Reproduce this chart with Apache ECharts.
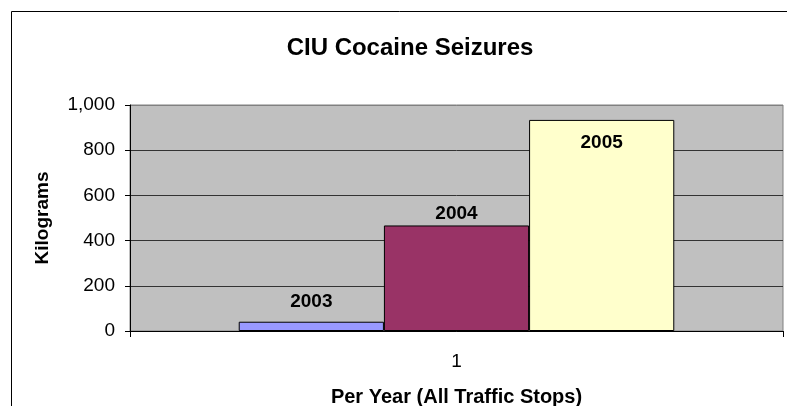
<!DOCTYPE html>
<html>
<head>
<meta charset="utf-8">
<script src="https://cdn.jsdelivr.net/npm/echarts@6/dist/echarts.min.js"></script>
<style>html,body{margin:0;padding:0;background:#fff}#c{width:787px;height:406px}</style>
</head>
<body>
<div id="c"></div>
<script>
const categories = ['1'];
const seriesNames = ['2003', '2004', '2005'];
const values = [41, 467, 934];
const yTicks = [0, 200, 400, 600, 800, 1000];

const colors = ['#9999ff', '#993366', '#ffffcc'];
const labelPos = [
  { position: 'top', distance: 10 },
  { position: 'top', distance: 2 },
  { position: 'insideTop', distance: 13 }
];

const chart = echarts.init(document.getElementById('c'), null, { renderer: 'canvas' });
const font = 'Arial, "Liberation Sans", sans-serif';

const series = seriesNames.map((name, i) => ({
  name: name,
  type: 'bar',
  data: [values[i]],
  barGap: '0%',
  barCategoryGap: '33.3%',
  itemStyle: { color: colors[i], borderColor: '#000', borderWidth: 1 },
  label: {
    show: true,
    formatter: '{a}',
    position: labelPos[i].position,
    distance: labelPos[i].distance,
    color: '#000',
    fontFamily: font,
    fontWeight: 'bold',
    fontSize: 19
  },
  emphasis: { disabled: true },
  animation: false
}));

chart.setOption({
  animation: false,
  backgroundColor: '#fff',
  title: {
    text: 'CIU Cocaine Seizures',
    left: 405, top: 31, textAlign: 'center',
    textStyle: { fontFamily: font, fontWeight: 'bold', fontSize: 24, color: '#000' }
  },
  graphic: [{
    type: 'rect', shape: { x: 11.5, y: 11.5, width: 820, height: 420 },
    style: { fill: 'none', stroke: '#000', lineWidth: 1 }, silent: true, z: -1
  }],
  grid: {
    left: 130, top: 105, right: 4, bottom: 75,
    outerBoundsMode: 'none',
    containLabel: false,
    show: true, backgroundColor: '#c0c0c0', borderColor: '#808080', borderWidth: 1
  },
  xAxis: {
    type: 'category',
    data: categories,
    name: 'Per Year (All Traffic Stops)',
    nameLocation: 'middle',
    nameGap: 56,
    nameTextStyle: { fontFamily: font, fontWeight: 'bold', fontSize: 20, color: '#000' },
    axisLine: { lineStyle: { color: '#000', width: 1 } },
    axisTick: { show: true, length: 6, lineStyle: { color: '#000' } },
    axisLabel: { fontFamily: font, fontSize: 19, color: '#000', margin: 21 }
  },
  yAxis: {
    type: 'value',
    min: yTicks[0], max: yTicks[yTicks.length - 1], interval: 200,
    name: 'Kilograms',
    nameLocation: 'middle',
    nameGap: 78,
    nameTextStyle: { fontFamily: font, fontWeight: 'bold', fontSize: 19, color: '#000' },
    axisLine: { show: true, lineStyle: { color: '#000', width: 1 } },
    axisTick: { show: true, length: 5, lineStyle: { color: '#000' } },
    axisLabel: {
      fontFamily: font, fontSize: 19, color: '#000', margin: 15,
      formatter: v => v.toLocaleString('en-US')
    },
    splitLine: { show: true, lineStyle: { color: ['#333', '#333', '#333', '#333', '#333', '#808080'], width: 1 } }
  },
  series: series
});
</script>
</body>
</html>
